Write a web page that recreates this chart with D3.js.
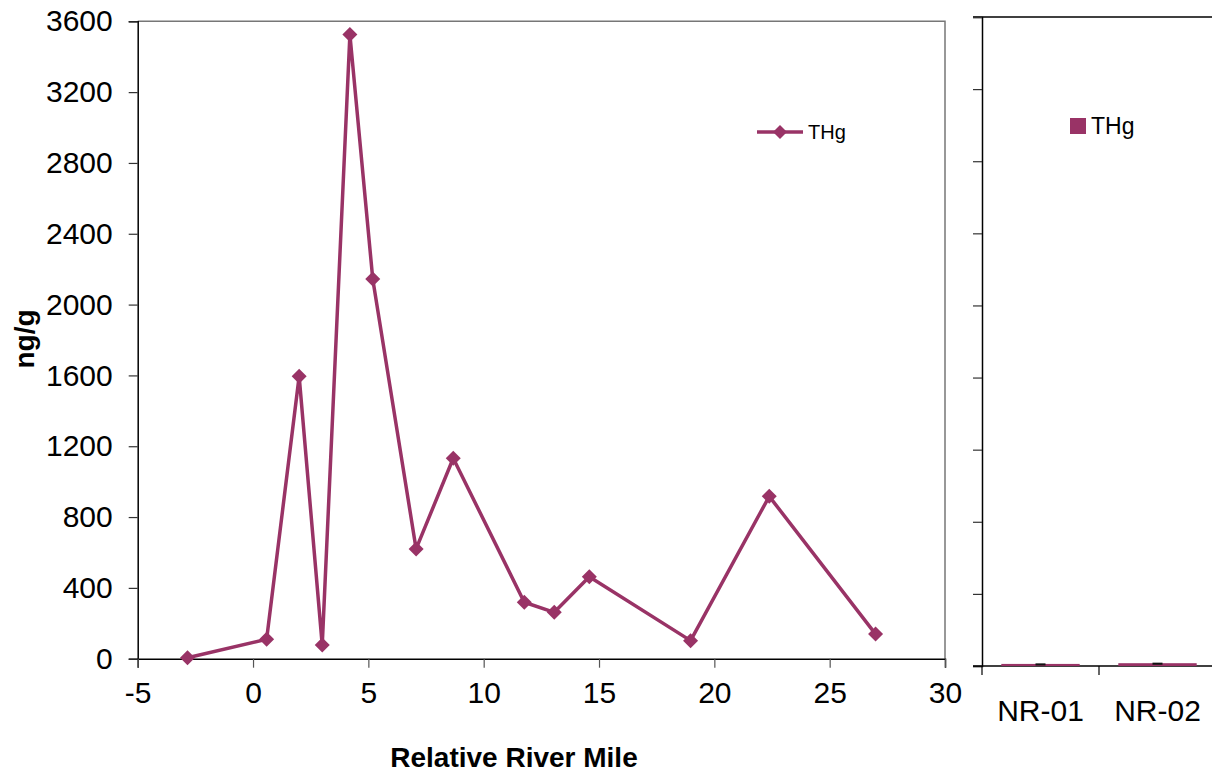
<!DOCTYPE html>
<html>
<head>
<meta charset="utf-8">
<script src="https://cdn.jsdelivr.net/npm/d3@7"></script>
<style>
  html, body { margin: 0; padding: 0; background: #fff; }
  text { font-family: "Liberation Sans", Arial, sans-serif; fill: #000; }
</style>
</head>
<body>
<svg id="chart" width="1212" height="776"></svg>
<script>
// ---- data ----
const riverMile = [-2.84, 0.59, 2.0, 3.0, 4.2, 5.19, 7.07, 8.68, 11.76, 13.06, 14.58, 18.97, 22.38, 26.99];
const thgValues = [5, 110, 1595, 77, 3525, 2145, 620, 1132, 319, 262, 463, 102, 917, 139];
const refSites = ["NR-01", "NR-02"];
const refValues = [6, 10];
const refErrors = [3, 3];
const yTicks = [0, 400, 800, 1200, 1600, 2000, 2400, 2800, 3200, 3600];
const xTicks = [-5, 0, 5, 10, 15, 20, 25, 30];
const seriesName = "THg";

const color = "#993366";
const svg = d3.select("#chart");
const plain = d => String(d);

// ---- main panel ----
const x = d3.scaleLinear().domain([-5, 30]).range([137.7, 945]);
const y = d3.scaleLinear().domain([0, 3600]).range([658.7, 21.3]);

// frame (top & right)
svg.append("path")
  .attr("d", `M${x(-5)},${y(3600)}H${x(30)}V${y(0)}`)
  .attr("fill", "none").attr("stroke", "#777").attr("stroke-width", 1.5);

// y axis
const yAxis = svg.append("g").attr("transform", `translate(${x(-5)},0)`)
  .call(d3.axisLeft(y).tickValues(yTicks).tickSize(9).tickPadding(16).tickFormat(plain));
yAxis.select(".domain").attr("stroke", "#000").attr("stroke-width", 1.5);
yAxis.selectAll(".tick line").attr("stroke", "#333").attr("stroke-width", 1.2);
yAxis.selectAll("text").style("font-size", "30px").attr("fill", "#000");

// x axis
const xAxis = svg.append("g").attr("transform", `translate(0,${y(0)})`)
  .call(d3.axisBottom(x).tickValues(xTicks).tickSize(9).tickPadding(14).tickFormat(plain));
xAxis.select(".domain").attr("stroke", "#000").attr("stroke-width", 1.5);
xAxis.selectAll(".tick line").attr("stroke", "#555").attr("stroke-width", 1.2);
xAxis.selectAll("text").style("font-size", "30px").attr("fill", "#000");

// line
const pts = riverMile.map((m, i) => ({ m, v: thgValues[i] }));
svg.append("path").datum(pts)
  .attr("d", d3.line().x(d => x(d.m)).y(d => y(d.v)))
  .attr("fill", "none").attr("stroke", color).attr("stroke-width", 3.5)
  .attr("stroke-linejoin", "round");

const diamond = r => `M0,${-r}L${r},0L0,${r}L${-r},0Z`;
svg.append("g").selectAll("path").data(pts).join("path")
  .attr("transform", d => `translate(${x(d.m)},${y(d.v)})`)
  .attr("d", diamond(7.5)).attr("fill", color);

// axis titles
svg.append("text").attr("x", 514).attr("y", 767).attr("text-anchor", "middle")
  .style("font-size", "28px").style("font-weight", "bold").text("Relative River Mile");
svg.append("text").attr("transform", "translate(34,339) rotate(-90)").attr("text-anchor", "middle")
  .style("font-size", "28px").style("font-weight", "bold").text("ng/g");

// legend
const lg = svg.append("g");
lg.append("line").attr("x1", 757).attr("x2", 803).attr("y1", 132).attr("y2", 132)
  .attr("stroke", color).attr("stroke-width", 3.5);
lg.append("path").attr("transform", "translate(780,132)").attr("d", diamond(7)).attr("fill", color);
lg.append("text").attr("x", 808).attr("y", 139).style("font-size", "20px").text(seriesName);

// ---- right panel ----
const yR = d3.scaleLinear().domain([0, 3600]).range([666, 17]);
const xR = d3.scaleBand().domain(refSites).range([982, 1216]).padding(0);

svg.append("line").attr("x1", 973).attr("x2", 1212).attr("y1", yR(3600)).attr("y2", yR(3600))
  .attr("stroke", "#000").attr("stroke-width", 1.5);

const yAxR = svg.append("g").attr("transform", "translate(982,0)")
  .call(d3.axisLeft(yR).tickValues(yTicks).tickSize(9).tickFormat(""));
yAxR.select(".domain").attr("stroke", "#000").attr("stroke-width", 1.5);
yAxR.selectAll(".tick line").attr("stroke", "#333").attr("stroke-width", 1.2);

const xAxR = svg.append("g").attr("transform", `translate(0,${yR(0)})`)
  .call(d3.axisBottom(xR).tickSize(0).tickPadding(34));
xAxR.select(".domain").remove();
xAxR.selectAll("text").style("font-size", "30px").attr("fill", "#000");
svg.append("line").attr("x1", 973).attr("x2", 1212).attr("y1", yR(0)).attr("y2", yR(0))
  .attr("stroke", "#000").attr("stroke-width", 1.5);
// category boundary ticks
const bounds = refSites.map(s => xR(s)).concat([xR(refSites[refSites.length - 1]) + xR.bandwidth()]);
svg.append("g").selectAll("line").data(bounds).join("line")
  .attr("x1", d => d).attr("x2", d => d).attr("y1", yR(0)).attr("y2", yR(0) + 9)
  .attr("stroke", "#000").attr("stroke-width", 1.2);

// bars
const bw = xR.bandwidth() * 0.67;
const refData = refSites.map((s, i) => ({ s, v: refValues[i], e: refErrors[i] }));
svg.append("g").selectAll("rect").data(refData).join("rect")
  .attr("x", d => xR(d.s) + (xR.bandwidth() - bw) / 2)
  .attr("width", bw)
  .attr("y", d => yR(d.v) - 1)
  .attr("height", d => yR(0) - yR(d.v) + 1)
  .attr("fill", color);
// error bars
svg.append("g").selectAll("rect").data(refData).join("rect")
  .attr("x", d => xR(d.s) + xR.bandwidth() / 2 - 5)
  .attr("width", 10)
  .attr("y", d => yR(d.v + d.e) - 1)
  .attr("height", d => yR(d.v - d.e) - yR(d.v + d.e) + 1)
  .attr("fill", "#111");

// right legend
svg.append("rect").attr("x", 1070).attr("y", 118).attr("width", 16).attr("height", 16).attr("fill", color);
svg.append("text").attr("x", 1091).attr("y", 134).style("font-size", "23px").text(seriesName);
</script>
</body>
</html>
